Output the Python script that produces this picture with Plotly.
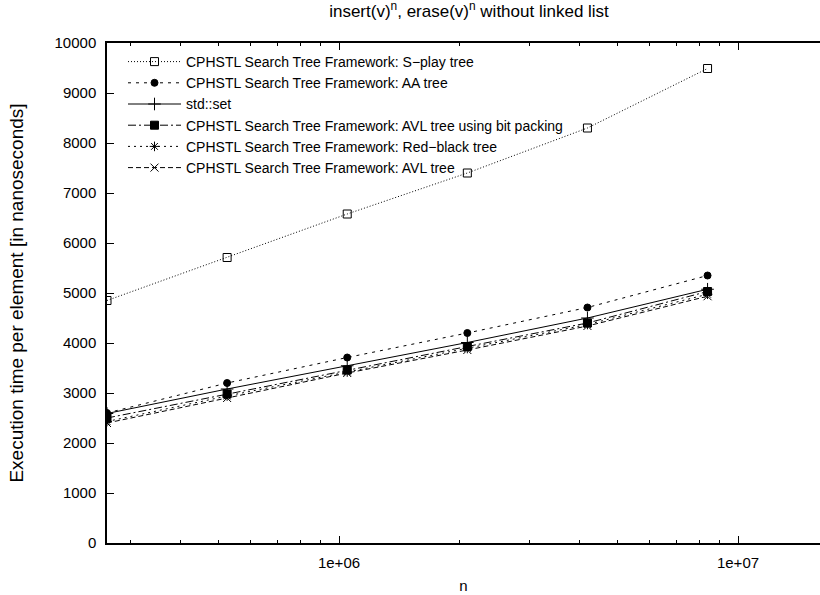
import plotly.graph_objects as go
import math

# ---- data ----
n_values = [262144, 524288, 1048576, 2097152, 4194304, 8388608]

splay = [4850, 5710, 6580, 7400, 8300, 9490]
aa_tree = [2600, 3200, 3710, 4200, 4710, 5350]
std_set = [2590, 3080, 3545, 4010, 4500, 5075]
avl_bitpack = [2500, 2980, 3460, 3930, 4400, 5030]
red_black = [2430, 2940, 3420, 3890, 4370, 4975]
avl_tree = [2400, 2900, 3400, 3860, 4340, 4935]

series_names = [
    "CPHSTL Search Tree Framework: S\u2212play tree",
    "CPHSTL Search Tree Framework: AA tree",
    "std::set",
    "CPHSTL Search Tree Framework: AVL tree using bit packing",
    "CPHSTL Search Tree Framework: Red\u2212black tree",
    "CPHSTL Search Tree Framework: AVL tree",
]

x_tick_vals = [1e6, 1e7]
x_tick_text = ["1e+06", "1e+07"]
x_minor_vals = [3e5, 4e5, 5e5, 6e5, 7e5, 8e5, 9e5,
                2e6, 3e6, 4e6, 5e6, 6e6, 7e6, 8e6, 9e6]
y_tick_vals = [0, 1000, 2000, 3000, 4000, 5000, 6000, 7000, 8000, 9000, 10000]
y_tick_text = ["0", "1000", "2000", "3000", "4000", "5000", "6000", "7000",
               "8000", "9000", "10000"]

# ---- styles ----
styles = [
    dict(dash="1px,2px", symbol="square-open", size=8),
    dict(dash="3px,5px", symbol="circle", size=7),
    dict(dash="solid", symbol="cross-thin-open", size=9),
    dict(dash="8px,3px,2px,3px", symbol="square", size=8),
    dict(dash="2px,4px", symbol="asterisk-open", size=8),
    dict(dash="5px,3px", symbol="x-thin-open", size=8),
]

FONT = "Liberation Sans, Arial, sans-serif"

fig = go.Figure()
for name, ys, st in zip(series_names,
                        [splay, aa_tree, std_set, avl_bitpack, red_black, avl_tree],
                        styles):
    fig.add_trace(go.Scatter(
        x=n_values, y=ys, name=name, mode="lines+markers",
        line=dict(color="black", width=1, dash=st["dash"]),
        marker=dict(symbol=st["symbol"], size=st["size"], color="black",
                    line=dict(color="black", width=1)),
    ))

W, H = 820, 595
L, R, T, B = 107, 0, 43, 52
x0 = math.log10(n_values[0])
px_per_decade = 399.0
x1 = x0 + (W - L - R) / px_per_decade

fig.update_layout(
    width=W, height=H,
    margin=dict(l=L, r=R, t=T, b=B, autoexpand=False),
    paper_bgcolor="white", plot_bgcolor="white",
    font=dict(family=FONT, size=15, color="black"),
    title=dict(text="insert(v)<sup>n</sup>, erase(v)<sup>n</sup> without linked list",
               x=469 / W, xanchor="center",
               y=1 - 11 / H, yanchor="middle",
               font=dict(family="Liberation Sans Narrow, Arial Narrow, Liberation Sans, sans-serif",
                         size=17, color="black")),
    showlegend=True,
    legend=dict(x=(123 - L) / (W - L - R), y=1 - 3 / (H - T - B),
                xanchor="left", yanchor="top",
                bgcolor="rgba(0,0,0,0)", borderwidth=0,
                font=dict(family=FONT, size=14, color="black"),
                itemwidth=53, tracegroupgap=0),
)

fig.update_xaxes(
    type="log", range=[x0, x1], automargin=False,
    tickvals=x_tick_vals, ticktext=x_tick_text,
    ticks="inside", ticklen=7, tickwidth=1, tickcolor="black",
    minor=dict(tickvals=x_minor_vals, ticks="inside", ticklen=3,
               tickwidth=1, tickcolor="black", showgrid=False),
    showline=True, linecolor="black", linewidth=1.5, mirror="allticks",
    showgrid=False, zeroline=False,
    title=dict(text="n", font=dict(size=15), standoff=11),
    tickfont=dict(size=15),
    ticklabelstandoff=5,
)
fig.update_yaxes(
    range=[0, 10000], tickvals=y_tick_vals, ticktext=y_tick_text, automargin=False,
    ticks="inside", ticklen=7, tickwidth=1, tickcolor="black",
    showline=True, linecolor="black", linewidth=1.5, mirror=False,
    showgrid=False, zeroline=False,
    title=dict(text="Execution time per element [in nanoseconds]", font=dict(size=19), standoff=26),
    tickfont=dict(size=15),
    ticklabelstandoff=6,
)

fig.write_html("out.html", config={"displayModeBar": False},
               post_script="document.body.style.margin='0px';")
